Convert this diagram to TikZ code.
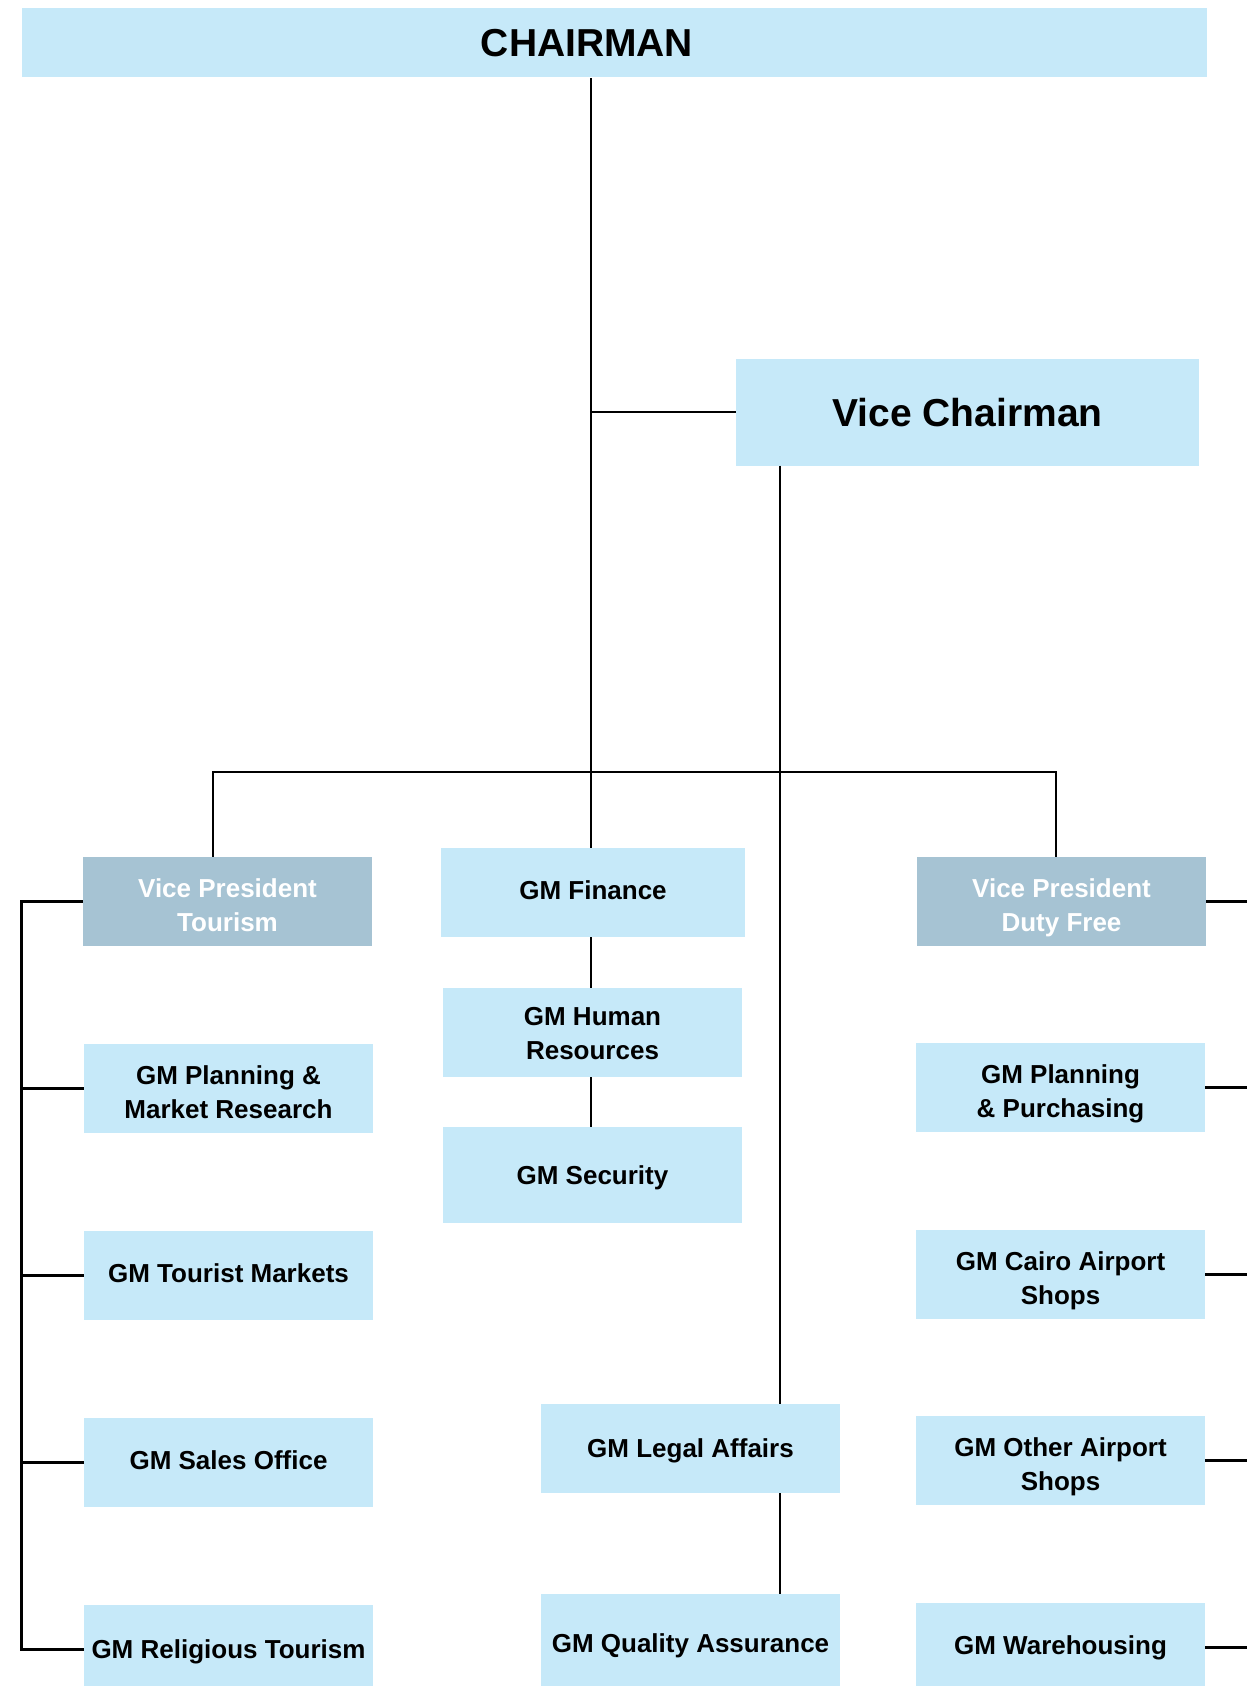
\documentclass[tikz,border=0pt]{standalone}
\usepackage{fontspec}
\setmainfont{Liberation Sans}
\usepackage{tikz}
\usetikzlibrary{calc}

\definecolor{boxblue}{HTML}{C6E9F9}
\definecolor{vpblue}{HTML}{A6C3D3}

\tikzset{
  unit/.style={fill=boxblue, inner sep=0pt, align=center, text depth=5pt,
    font=\fontsize{26}{34}\selectfont\bfseries},
  vpunit/.style={unit, fill=vpblue, text=white},
  duo/.style={text depth=0pt, text height=60pt},
  low/.style={text depth=0pt},
  link/.style={line width=2.2pt},
}

\begin{document}
\begin{tikzpicture}[x=1pt, y=-1pt]

\useasboundingbox (0,0) rectangle (1247,1686);

% -------- top --------
\node [unit, minimum width=1185pt, minimum height=68pt, text depth=0pt,
       font=\fontsize{39}{44}\selectfont\bfseries] (chair) at (614,42.5) {CHAIRMAN\hspace*{54pt}};
\node [unit, minimum width=463pt, minimum height=107pt, text depth=0pt,
       font=\fontsize{39}{44}\selectfont\bfseries] (vice) at (967.5,412) {Vice Chairman};

% -------- second row --------
\node [vpunit, duo, minimum width=289pt, minimum height=89pt] (vpt) at (227.5,901.5) {Vice President\\Tourism};
\node [unit, minimum width=304pt, minimum height=89pt] (fin) at (593,892.5) {GM Finance};
\node [vpunit, duo, minimum width=289pt, minimum height=89pt] (vpd) at (1061.5,901.5) {Vice President\\Duty Free};

% -------- centre column --------
\node [unit, duo, text height=54pt, minimum width=299pt, minimum height=89pt] (hr)  at (592.5,1032.5) {GM Human\\Resources};
\node [unit, low, minimum width=299pt, minimum height=96pt] (sec) at (592.5,1175) {GM Security};
\node [unit, low, minimum width=299pt, minimum height=89pt] (legal) at (690.5,1448.5) {GM Legal Affairs};
\node [unit, low, minimum width=299pt, minimum height=98pt] (qa) at (690.5,1643) {GM Quality Assurance};

% -------- tourism column --------
\node [unit, duo, minimum width=289pt, minimum height=89pt] (plm) at (228.5,1088.5) {GM Planning \&\\Market Research};
\node [unit, minimum width=289pt, minimum height=89pt] (tmk) at (228.5,1275.5) {GM Tourist Markets};
\node [unit, minimum width=289pt, minimum height=89pt] (sal) at (228.5,1462.5) {GM Sales Office};
\node [unit, low, minimum width=289pt, minimum height=89pt] (rel) at (228.5,1649.5) {GM Religious Tourism};

% -------- duty free column --------
\node [unit, duo, minimum width=289pt, minimum height=89pt] (plp) at (1060.5,1087.5) {GM Planning\\\& Purchasing};
\node [unit, duo, minimum width=289pt, minimum height=89pt] (cai) at (1060.5,1274.5) {GM Cairo Airport\\Shops};
\node [unit, duo, minimum width=289pt, minimum height=89pt] (oth) at (1060.5,1460.5) {GM Other Airport\\Shops};
\node [unit, minimum width=289pt, minimum height=89pt] (war) at (1060.5,1647.5) {GM Warehousing};

% -------- bus points --------
\coordinate (trunk) at (591,772);
\coordinate (viceleg) at (780,772);
\coordinate (busL) at (213,772);
\coordinate (busR) at (1056,772);
\coordinate (sideL) at (21.5,901.5);
\coordinate (sideR) at (1247,0);
\coordinate (chairfoot) at (591,78);

% -------- connectors --------
\draw [link] (chairfoot) -- (trunk |- fin.north);
\draw [link] (vice.west) -- (vice.west -| trunk);
\draw [link] (vice.south -| viceleg) -- (viceleg |- legal.north);
\draw [link] (legal.south -| viceleg) -- (viceleg |- qa.north);
\draw [link] (busL |- vpt.north) -- (busL) -- (busR) -- (busR |- vpd.north);
\draw [link] (fin.south -| trunk) -- (trunk |- hr.north);
\draw [link] (hr.south -| trunk) -- (trunk |- sec.north);

\draw [link] (vpt.west) -- (sideL) -- (sideL |- rel.west) -- (rel.west);
\foreach \n in {plm, tmk, sal}
  \draw [link] (\n.west) -- (\n.west -| sideL);

\foreach \n in {vpd, plp, cai, oth, war}
  \draw [link] (\n.east) -- (\n.east -| sideR);

\end{tikzpicture}
\end{document}
